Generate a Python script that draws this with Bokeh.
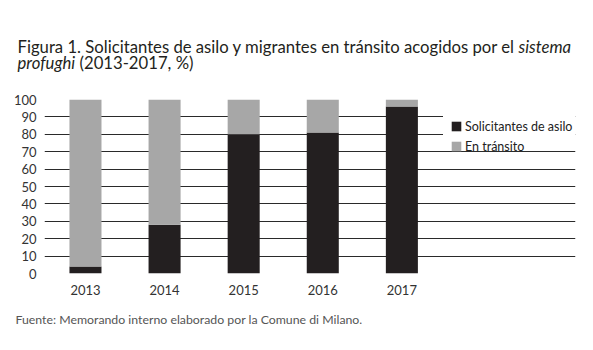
from bokeh.plotting import figure
from bokeh.layouts import column
from bokeh.models import (ColumnDataSource, Range1d, FixedTicker, Label, Legend,
                          LegendItem, BoxAnnotation)
from bokeh.embed import file_html
from bokeh.resources import INLINE

years = ["2013", "2014", "2015", "2016", "2017"]
solicitantes = [4, 28, 80, 81, 96]
en_transito = [100 - v for v in solicitantes]
series = ["Solicitantes de asilo", "En tránsito"]
y_ticks = [0, 10, 20, 30, 40, 50, 60, 70, 80, 90, 100]
title_1 = "Figura 1. Solicitantes de asilo y migrantes en tránsito acogidos por el"
title_1_it = "sistema"
title_2_it = "profughi"
title_2 = "(2013-2017, %)"
source_note = "Fuente: Memorando interno elaborado por la Comune di Milano."

FONT = "Lato"
BLACK = "#231f20"
GREY = "#a7a7a7"
W = 593
TOP_H = 80
BOT_H = 45
MAIN_H = 350 - TOP_H - BOT_H


def text_panel(h):
    f = figure(width=W, height=h, output_backend="svg", toolbar_location=None,
               x_range=Range1d(0, W), y_range=Range1d(h, 0),
               x_axis_type=None, y_axis_type=None,
               min_border_left=0, min_border_right=0, min_border_top=0,
               min_border_bottom=0)
    f.outline_line_color = None
    f.background_fill_color = "white"
    f.border_fill_color = "white"
    f.grid.visible = False
    if "frame_align" in f.properties():
        f.frame_align = False
    return f


# ---- title panel
top = text_panel(TOP_H)
tkw = dict(text_font=FONT, text_color="#231f20", text_baseline="alphabetic",
           text_font_size="16.7px")
top.add_layout(Label(x=17, y=46, text=title_1, **tkw))
top.add_layout(Label(x=518, y=46, text=title_1_it, text_font_style="italic", **tkw))
top.add_layout(Label(x=17, y=62, text=title_2_it, text_font_style="italic", **tkw))
top.add_layout(Label(x=79, y=62, text=title_2, **tkw))

# ---- main chart
xs = list(range(len(years)))
src = ColumnDataSource(dict(x=xs, sol=solicitantes, tra=en_transito))

p = figure(width=W, height=MAIN_H, output_backend="svg", toolbar_location=None,
           x_range=Range1d(-0.518, 6.195), y_range=Range1d(0, 100),
           min_border_left=44, min_border_right=18, min_border_top=99 - TOP_H,
           min_border_bottom=(TOP_H + MAIN_H) - 273)
p.outline_line_color = None
p.background_fill_color = "white"
p.border_fill_color = "white"
if "frame_align" in p.properties():
    p.frame_align = False

r = p.vbar_stack(["sol", "tra"], x="x", width=0.405, source=src,
                 color=[BLACK, GREY], line_color=None)

p.xgrid.grid_line_color = None
p.ygrid.ticker = FixedTicker(ticks=y_ticks)
p.ygrid.grid_line_color = "#2a2a2a"
p.ygrid.grid_line_width = 1

p.yaxis.ticker = FixedTicker(ticks=y_ticks)
p.yaxis.axis_line_color = None
p.yaxis.major_tick_line_color = None
p.yaxis.minor_tick_line_color = None
p.yaxis.major_label_standoff = 2
p.yaxis.major_label_text_font = FONT
p.yaxis.major_label_text_font_size = "13px"
p.yaxis.major_label_text_color = "#333333"

p.xaxis.ticker = FixedTicker(ticks=xs)
p.xaxis.major_label_overrides = {i: y for i, y in zip(xs, years)}
p.xaxis.axis_line_color = None
p.xaxis.major_tick_line_color = None
p.xaxis.minor_tick_line_color = None
p.xaxis.major_label_standoff = 5
p.xaxis.major_label_text_font = FONT
p.xaxis.major_label_text_font_size = "13px"
p.xaxis.major_label_text_color = "#333333"

# white box hiding the grid lines behind the legend
p.add_layout(BoxAnnotation(left=4.52, bottom=74, top=96, fill_color="white",
                           fill_alpha=1, line_color=None))

legend = Legend(items=[LegendItem(label=series[0], renderers=[r[0]]),
                       LegendItem(label=series[1], renderers=[r[1]])],
                location=(406, 117), padding=0, margin=0, spacing=0,
                label_height=20, glyph_height=12, glyph_width=12,
                label_standoff=3, background_fill_alpha=0,
                border_line_color=None, label_text_font=FONT,
                label_text_font_size="12.5px", label_text_color="#222222")
p.add_layout(legend)

# ---- source panel
bot = text_panel(BOT_H)
bot.add_layout(Label(x=15, y=319 - (TOP_H + MAIN_H), text=source_note,
                     text_font=FONT, text_color="#555555", text_baseline="alphabetic",
                     text_font_size="12.3px"))

layout = column(top, p, bot, spacing=0)
open("out.html", "w").write(file_html(layout, INLINE))
